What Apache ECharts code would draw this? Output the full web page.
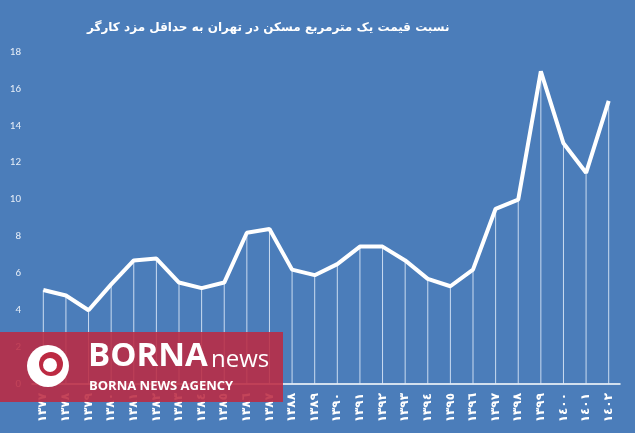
<!DOCTYPE html>
<html><head><meta charset="utf-8">
<script src="https://cdn.jsdelivr.net/npm/echarts@6/dist/echarts.min.js"></script>
<style>html,body{margin:0;padding:0;background:#4b7dba}#c{width:635px;height:433px}</style>
</head><body><div id="c"></div>
<script>
const titleText = 'نسبت قیمت یک مترمربع مسکن در تهران به حداقل مزد کارگر';
const years = ['١٣٧٧','١٣٧٨','١٣٧٩','١٣٨٠','١٣٨١','١٣٨٢','١٣٨٣','١٣٨٤','١٣٨٥','١٣٨٦','١٣٨٧','١٣٨٨','١٣٨٩','١٣٩٠','١٣٩١','١٣٩٢','١٣٩٣','١٣٩٤','١٣٩٥','١٣٩٦','١٣٩٧','١٣٩٨','١٣٩٩','١٤٠٠','١٤٠١','١٤٠٢'];
const ratio = [5.1,4.8,4.0,5.4,6.7,6.8,5.5,5.2,5.5,8.2,8.4,6.2,5.9,6.5,7.45,7.45,6.7,5.7,5.3,6.2,9.5,10.0,16.95,13.05,11.45,15.35];
const yTicks = [0,2,4,6,8,10,12,14,16,18];

const chart = echarts.init(document.getElementById('c'));
chart.setOption({
  backgroundColor: '#4b7dba',
  animation: false,
  title: {
    text: titleText, left: 82, top: 17,
    textStyle: {color: '#ffffff', fontSize: 12, fontWeight: 'bold', fontFamily: 'DejaVu Sans'}
  },
  grid: {left: 32, right: 15, top: 52, bottom: 49},
  xAxis: {
    type: 'category', data: years, boundaryGap: true,
    axisLine: {lineStyle: {color: '#ffffff', width: 1.5}},
    axisTick: {show: false},
    axisLabel: {rotate: 90, color: '#ffffff', fontSize: 12, fontWeight: 'bold', fontFamily: 'DejaVu Sans', margin: 9, interval: 0}
  },
  yAxis: {
    type: 'value', min: yTicks[0], max: yTicks[yTicks.length-1], interval: 2,
    axisLine: {show: false}, axisTick: {show: false}, splitLine: {show: false},
    axisLabel: {color: '#e6edf7', fontSize: 11, fontFamily: 'Calibri, Carlito, Liberation Sans', margin: 11}
  },
  series: [
    {type: 'bar', data: ratio, barWidth: 1, itemStyle: {color: 'rgba(225,236,250,0.85)'}, silent: true, z: 1},
    {type: 'line', data: ratio, symbol: 'none', lineStyle: {color: '#ffffff', width: 4}, z: 3}
  ],
  graphic: [
    {type: 'rect', shape: {x: 0, y: 332, width: 283, height: 70}, style: {fill: 'rgba(188,42,66,0.88)'}, z: 100},
    {type: 'circle', shape: {cx: 48, cy: 366, r: 21}, style: {fill: '#ffffff'}, z: 101},
    {type: 'circle', shape: {cx: 51, cy: 364, r: 12}, style: {fill: 'rgba(188,42,66,1)'}, z: 102},
    {type: 'circle', shape: {cx: 50, cy: 365, r: 7}, style: {fill: '#ffffff'}, z: 103},
    {type: 'text', left: 88, top: 340, style: {text: 'BORNA', fill: '#ffffff', font: 'bold 33px "Open Sans", sans-serif'}, z: 101},
    {type: 'text', left: 211, top: 348, style: {text: 'news', fill: '#ffffff', font: '24px "Open Sans", sans-serif'}, z: 101},
    {type: 'text', left: 89, top: 380, style: {text: 'BORNA NEWS AGENCY', fill: '#ffffff', font: 'bold 13px "Open Sans", sans-serif'}, z: 101}
  ]
});
</script></body></html>
